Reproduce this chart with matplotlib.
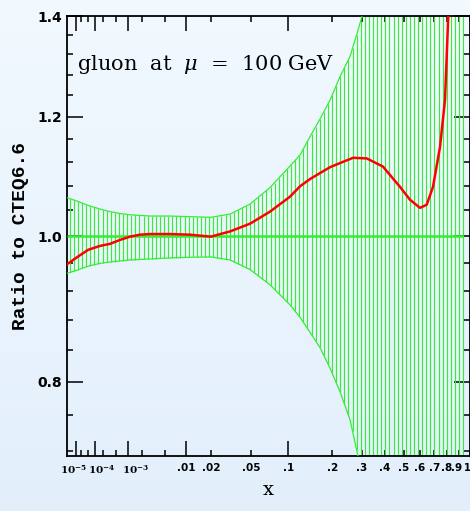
import numpy as np
import matplotlib
matplotlib.use('Agg')
import matplotlib.pyplot as plt
from matplotlib.transforms import ScaledTranslation
from matplotlib.ticker import FixedLocator, NullFormatter, FixedFormatter

plt.rcParams['mathtext.fontset'] = 'dejavuserif'

# ---------------- data ----------------
x_central = [1.6e-6, 1.15e-5, 5.0e-5, 1.6e-4, 3.4e-4, 6.5e-4, 1.13e-3, 1.84e-3,
             2.85e-3, 6.0e-3, 0.0114, 0.02, 0.0318, 0.0489, 0.0722, 0.1029,
             0.1216, 0.1426, 0.1664, 0.193, 0.2226, 0.2661, 0.3186, 0.3907,
             0.4787, 0.5367, 0.6002, 0.6455, 0.6905, 0.7435, 0.7828, 0.8097, 0.83]
central = [0.958, 0.968, 0.979, 0.985, 0.988, 0.994, 0.999, 1.002,
           1.003, 1.003, 1.002, 0.999, 1.007, 1.019, 1.038, 1.062,
           1.079, 1.091, 1.101, 1.111, 1.118, 1.127, 1.126, 1.112,
           1.078, 1.057, 1.044, 1.049, 1.078, 1.146, 1.231, 1.40, 1.60]

x_band = [1.6e-6, 1.15e-5, 5.0e-5, 1.6e-4, 3.4e-4, 6.5e-4, 1.13e-3, 2.85e-3,
          6.0e-3, 0.0114, 0.02, 0.0318, 0.0489, 0.0722, 0.1029, 0.1216,
          0.1426, 0.1664, 0.193, 0.2226, 0.2556, 0.2845, 0.30, 0.40, 0.60, 0.94]
upper = [1.060, 1.055, 1.048, 1.042, 1.038, 1.035, 1.033, 1.031,
         1.031, 1.030, 1.029, 1.034, 1.050, 1.077, 1.113, 1.132,
         1.164, 1.196, 1.231, 1.276, 1.316, 1.370, 1.40, 1.75, 2.30, 3.00]
lower = [0.9446, 0.949, 0.955, 0.959, 0.961, 0.9625, 0.964, 0.9655,
         0.967, 0.968, 0.9685, 0.964, 0.950, 0.928, 0.900, 0.883,
         0.863, 0.843, 0.817, 0.788, 0.755, 0.714, 0.69, 0.57, 0.44, 0.33]

x_major = [1e-5, 1e-4, 1e-3, 0.01, 0.1]
x_major_labels = [r'$\mathbf{10}^{\mathbf{-5}}$', r'$\mathbf{10}^{\mathbf{-4}}$',
                  r'$\mathbf{10}^{\mathbf{-3}}$', '.01', '.1']
x_minor = [2e-5, 5e-5, 2e-4, 5e-4, 2e-3, 5e-3, 0.02, 0.05, 0.2, 0.3, 0.4,
           0.5, 0.6, 0.7, 0.8, 0.9, 1.0]
x_minor_labels = ['', '', '', '', '', '', '.02', '.05', '.2', '.3', '.4',
                  '.5', '.6', '.7', '.8', '.9', '1']
y_major = [0.8, 1.0, 1.2, 1.4]
y_major_labels = ['0.8', '1.0', '1.2', '1.4']
y_minor = [0.72, 0.76, 0.84, 0.88, 0.92, 0.96, 1.04, 1.08, 1.12, 1.16,
           1.24, 1.28, 1.32, 1.36]

# ---------------- figure ----------------
W, H = 470, 511
fig = plt.figure(figsize=(W / 100, H / 100), dpi=100)

# light gradient background
bg = fig.add_axes([0, 0, 1, 1], zorder=-10)
t = np.linspace(0, 1, 256)[:, None]
top_c = np.array([0xf2, 0xf9, 0xff]) / 255.0
bot_c = np.array([0xe2, 0xef, 0xfb]) / 255.0
grad = (top_c[None, None, :] * (1 - t[..., None]) + bot_c[None, None, :] * t[..., None])
grad = np.repeat(grad, 2, axis=1)
bg.imshow(grad, aspect='auto', extent=[0, 1, 0, 1])
bg.axis('off')

L, R, T, B = 67.3, 469.5, 16.0, 456.0
ax = fig.add_axes([L / W, 1 - B / H, (R - L) / W, (B - T) / H])
ax.patch.set_alpha(0)

P = 0.247
def fwd(x):
    return np.power(np.clip(np.asarray(x, float), 1e-12, None), P)
def inv(u):
    return np.power(np.clip(np.asarray(u, float), 0, None), 1.0 / P)

ax.set_xscale('function', functions=(fwd, inv))
ax.set_yscale('log')
xmin, xmax = x_band[0], 1.0
ax.set_xlim(xmin, xmax)
ax.set_ylim(1 / 1.4, 1.4)

green = '#33ee33'
# hatching (vertical lines between band edges)
uh = np.linspace(fwd(x_band[0]) + 0.006, fwd(x_band[-1]), 97)
xh = inv(uh)
ub = fwd(x_band)
hi = np.exp(np.interp(uh, ub, np.log(upper)))
lo = np.exp(np.interp(uh, ub, np.log(lower)))
ax.vlines(xh, lo, hi, color=green, lw=0.8, zorder=2)
ax.plot(x_band, upper, color=green, lw=0.9, zorder=3)
ax.plot(x_band, lower, color=green, lw=0.9, zorder=3)
ax.hlines(1.0, x_band[0], x_band[-1], color=green, lw=1.8, zorder=3)
ax.plot(x_central, central, color='#ff0000', lw=1.8, zorder=4)

# ticks
ax.xaxis.set_major_locator(FixedLocator(x_major))
ax.xaxis.set_major_formatter(FixedFormatter(x_major_labels))
ax.xaxis.set_minor_locator(FixedLocator(x_minor))
ax.xaxis.set_minor_formatter(FixedFormatter(x_minor_labels))
ax.yaxis.set_major_locator(FixedLocator(y_major))
ax.yaxis.set_major_formatter(FixedFormatter(y_major_labels))
ax.yaxis.set_minor_locator(FixedLocator(y_minor))
ax.yaxis.set_minor_formatter(NullFormatter())

ax.tick_params(axis='both', which='both', direction='in', top=True, right=True,
               colors='black', width=1.1)
ax.tick_params(axis='x', which='major', length=10.8, pad=5)
ax.tick_params(axis='x', which='minor', length=4.3, pad=5)
ax.tick_params(axis='y', which='major', length=11.5, pad=4)
ax.tick_params(axis='y', which='minor', length=4.5)
for lab in ax.get_xticklabels(which='both'):
    lab.set_fontsize(7.5)
    lab.set_fontweight('bold')
for lab in ax.get_yticklabels():
    lab.set_fontsize(10)
    lab.set_fontweight('bold')

def shift(lab, dx):
    lab.set_transform(lab.get_transform() + ScaledTranslation(dx / 100, 0, fig.dpi_scale_trans))

# shift the power-of-ten labels so the base sits on the tick
for lab, dx in zip(ax.get_xticklabels()[:3], [-3, 7, 8]):
    shift(lab, dx)
# squeeze the crowded ".9" and "1" labels at the right edge
minor_labs = ax.get_xticklabels(minor=True)
shift(minor_labs[-2], -2.0)
shift(minor_labs[-1], -2.0)
minor_labs[-1].set_fontsize(7)

for sp in ax.spines.values():
    sp.set_linewidth(1.3)
    sp.set_color('black')

ax.set_ylabel('Ratio to CTEQ6.6', family='Liberation Mono', fontweight='bold',
              fontsize=14, labelpad=6)
ax.set_xlabel('x', family='DejaVu Serif', fontsize=14, labelpad=4)

ax.text(0.023, 0.877, r'gluon  at  $\mu$  =  100 GeV', transform=ax.transAxes,
        family='DejaVu Serif', fontsize=15, va='baseline', ha='left', zorder=6)

fig.savefig('out.png', dpi=100)
